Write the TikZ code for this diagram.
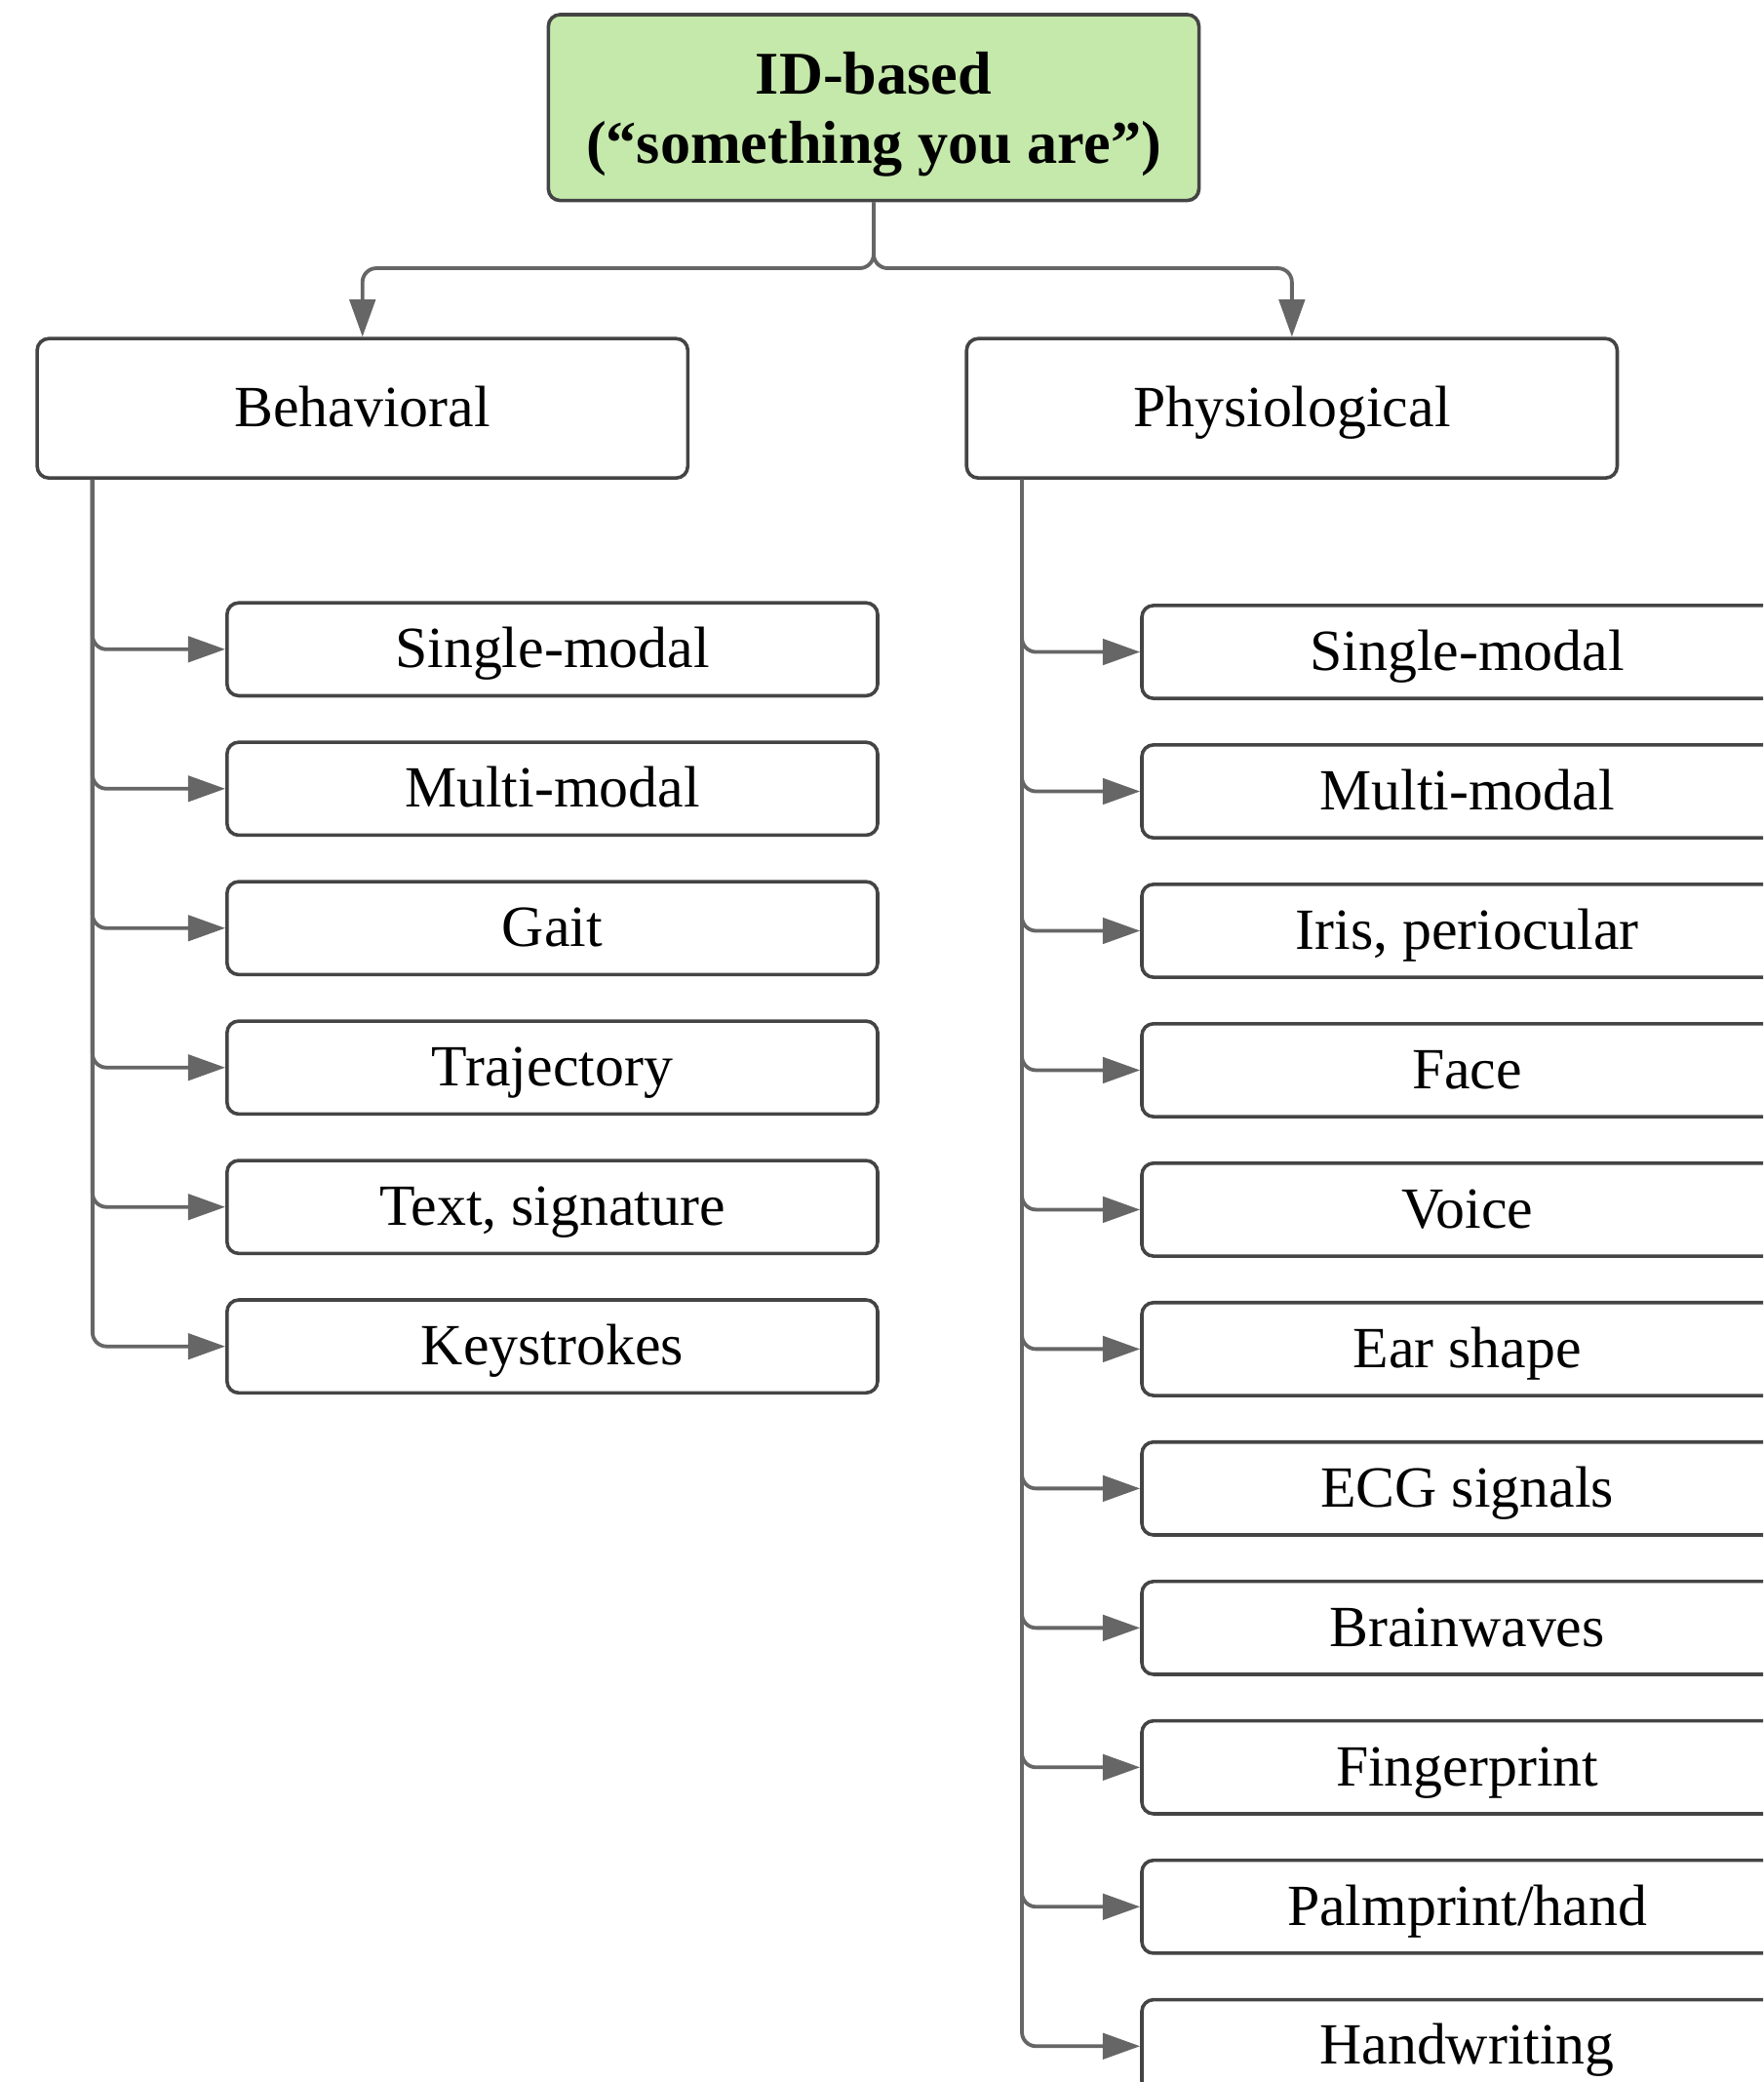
\documentclass[tikz,border=0pt]{standalone}
\usepackage{fontspec}
\setmainfont{Liberation Serif}
\usepackage{xcolor}
\usepackage{tikz}
\usetikzlibrary{calc}
\usetikzlibrary{positioning,arrows.meta}
\definecolor{rootgreen}{HTML}{C5E8AB}
\definecolor{boxline}{HTML}{444444}
\definecolor{connline}{HTML}{666666}

\begin{document}
\begin{tikzpicture}[
  box/.style={draw=boxline, line width=1.5pt, rounded corners=5pt, align=center,
              font=\fontsize{25}{30}\selectfont, minimum width=9.8cm, inner sep=2pt,
              text height=0.7cm, text depth=0.15cm},
  rootbox/.style={box, fill=rootgreen, minimum height=2.8cm, text height=, text depth=0pt,
                  font=\bfseries\fontsize{26}{29.5}\selectfont},
  catbox/.style={box, minimum height=2.1cm},
  leaf/.style={box, minimum height=1.4cm},
  conn/.style={-{Triangle[length=16pt, width=11pt]}, connline, line width=1.6pt, rounded corners=6pt}]
\useasboundingbox (0,0) rectangle (26.56,-31.36);
\clip (0,0) rectangle (26.56,-31.36);
\node[rootbox] (root) at (13.16,-1.62) {ID-based\\(“something you are”)};
\node[catbox] (beh) at (5.46,-6.15) {Behavioral};
\node[catbox] (phy) at (19.46,-6.15) {Physiological};
\coordinate (fork) at (13.16,-4.04);
\draw[conn] (root.south) -- (fork) -| (beh.north);
\draw[conn] (root.south) -- (fork) -| (phy.north);
% behavioral leaves
\coordinate (btrunk) at ([xshift=0.86cm]beh.south west);
\coordinate (bstart) at (8.32,-9.78);
\foreach \t [count=\i] in {Single-modal, Multi-modal, Gait, Trajectory, {Text, signature}, Keystrokes}
  \node[leaf] (b\i) at ([yshift=-(\i-1)*2.1cm]bstart) {\t};
\foreach \i in {1,...,6}
  \draw[conn] (btrunk) |- (b\i.west);
% physiological leaves
\coordinate (ptrunk) at ([xshift=0.86cm]phy.south west);
\coordinate (pstart) at (22.1,-9.82);
\foreach \t [count=\i] in {Single-modal, Multi-modal, {Iris, periocular}, Face, Voice, Ear shape,
    ECG signals, Brainwaves, Fingerprint, Palmprint/hand, Handwriting}
  \node[leaf] (p\i) at ([yshift=-(\i-1)*2.1cm]pstart) {\t};
\foreach \i in {1,...,11}
  \draw[conn] (ptrunk) |- (p\i.west);
\end{tikzpicture}
\end{document}
